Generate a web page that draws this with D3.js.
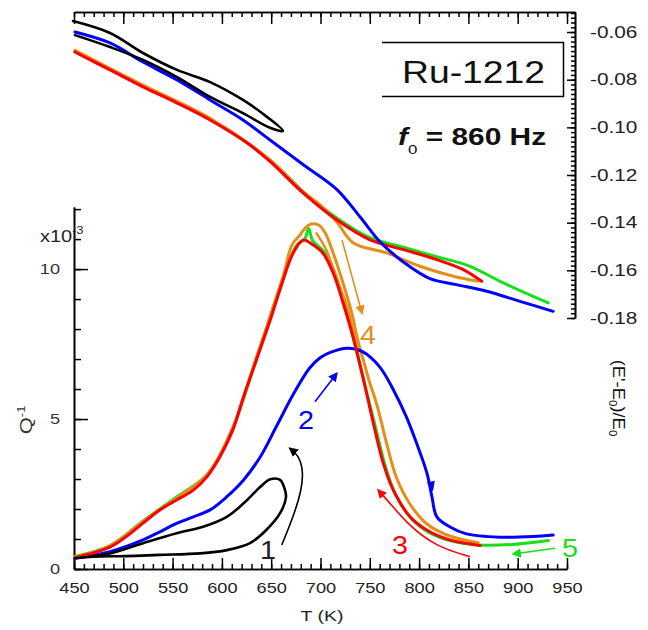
<!DOCTYPE html>
<html><head><meta charset="utf-8">
<script src="https://cdn.jsdelivr.net/npm/d3@7"></script>
<style>
body{margin:0;background:#fff}
text{font-family:"Liberation Sans",Arial,sans-serif}
</style>
</head><body>
<svg id="c" width="648" height="630"></svg>
<script>
// ---------------- DATA ----------------
// Lower panel: internal friction Q^-1 (x10^-3) vs T (K)
const qBlack  = [[451,0.36],[486.5,0.52],[520,0.86],[554,1.19],[581,1.41],[605,1.74],[622,2.19],[639,2.74],[649,2.99],[659,2.97],[664,2.63],[665,2.4],[659,1.86],[645,1.3],[628.5,0.86],[605,0.63],[578,0.52],[537,0.47],[503,0.43],[470,0.41],[451,0.36]];
const qBlue   = [[451,0.36],[486.5,0.58],[520,0.97],[537,1.24],[554,1.52],[571,1.74],[588,1.97],[605,2.41],[622,2.97],[639,3.74],[656,4.8],[672,5.8],[689,6.7],[700,7.05],[710,7.22],[727,7.36],[743,7.24],[760,6.74],[774,5.97],[787,5.08],[797.5,4.19],[808,3.19],[813,2.41],[818,1.74],[831,1.41],[848,1.17],[882,1.06],[916,1.08],[936,1.13]];
const qRed    = [[451,0.37],[486.5,0.73],[503,1.08],[520,1.53],[537,1.97],[554,2.3],[571,2.63],[585,3.08],[598,3.74],[611,4.63],[622,5.75],[635,6.97],[649,8.3],[662,9.63],[672,10.52],[682.5,10.97],[692.7,10.8],[702.8,10.52],[713,9.86],[723,8.86],[733,7.74],[743.4,6.35],[753.6,4.86],[763.7,3.52],[773.8,2.63],[790.8,1.74],[807.7,1.3],[831,0.97],[858,0.8],[862,0.78]];
const qGreen  = [[451,0.42],[486.5,0.78],[520,1.6],[554,2.4],[585,3.15],[611,4.7],[635,7.0],[662,9.7],[676,10.8],[684,11.0],[688,11.35],[692,10.95],[703,10.6],[713,10.0],[723,9.0],[737,7.2],[746,6.0],[756,4.7],[766,3.4],[776,2.5],[793,1.65],[810,1.22],[833,0.93],[860,0.8],[895,0.82],[931,0.95]];
const qOrange = [[451,0.4],[486.5,0.76],[520,1.58],[554,2.36],[585,3.14],[611,4.72],[635,7.05],[662,9.75],[671,10.8],[679,11.13],[688,11.47],[698,11.47],[705,11.19],[713,10.52],[723,9.52],[732,8.5],[738,7.6],[744,6.9],[750,6.2],[757,5.5],[767,4.2],[777,3.05],[791,2.15],[808,1.5],[831,1.1],[860,0.88]];
const qOrangeB = [[696,11.19],[706,10.63],[716,9.74],[727,8.74],[733,7.97],[738,7.1]];

// Upper panel: (E'-E0)/E0 vs T (K)
const eBlack  = [[449,-0.0554],[486.5,-0.0604],[520,-0.0688],[554.5,-0.0759],[588,-0.0810],[621.4,-0.0885],[645.7,-0.0956],[662,-0.1015],[648.8,-0.1002],[621.4,-0.0940],[588,-0.0872],[554.5,-0.0789],[520,-0.0717],[486.5,-0.0663],[451,-0.0613]];
const eBlue   = [[451,-0.0600],[486.5,-0.0646],[520,-0.0726],[554.5,-0.0801],[588,-0.0885],[621.4,-0.0969],[648.8,-0.1053],[682.6,-0.1157],[716.4,-0.1260],[740,-0.1375],[760.3,-0.1480],[784,-0.1565],[811,-0.1635],[838,-0.1660],[868.6,-0.1688],[902.3,-0.1730],[936,-0.1772]];
const eRed    = [[451,-0.0684],[486.5,-0.0759],[520,-0.0830],[554.5,-0.0898],[588,-0.0969],[625.5,-0.1065],[648.8,-0.1143],[682.6,-0.1276],[716.4,-0.1388],[750.2,-0.1472],[784,-0.1513],[817.9,-0.1555],[844.8,-0.1597],[863.5,-0.1646]];
const eGreen  = [[451,-0.0680],[520,-0.0826],[588,-0.0965],[648.8,-0.1138],[682.6,-0.1270],[716.4,-0.1380],[750.2,-0.1463],[784,-0.1503],[817.9,-0.1543],[851.6,-0.1583],[885.4,-0.1653],[931,-0.1737]];
const eOrange = [[451,-0.0677],[520,-0.0823],[588,-0.0962],[648.8,-0.1137],[682.6,-0.1272],[699.5,-0.1325],[716.4,-0.1396],[733,-0.1484],[767,-0.1527],[801,-0.1583],[834.7,-0.1625],[860,-0.1646]];

// Annotation arrows (data units, lower panel)
const arrow1 = [[660.7,0.8],[672.4,1.74],[680.9,2.63],[682.6,3.3],[677.5,3.8],[669,4.02]];
const arrow2 = [[694.4,5.58],[716.4,6.52]];
const arrow3 = [[851.6,0.41],[817.9,0.74],[790.8,1.41],[770.5,2.19],[758.6,2.63]];
const arrow4 = [[721.8,10.97],[742.1,8.53]];
const arrow5 = [[937.8,0.69],[895.5,0.5]];
const arrowLabels = [["1",646.8,0.63],["2",685.3,4.97],["3",780.6,0.8],["4",748.2,7.8],["5",953,0.7]];

// Tick values
const xMajor = [450,500,550,600,650,700,750,800,850,900,950];
const qMajor = [0,5,10];
const eMajor = [-0.18,-0.16,-0.14,-0.12,-0.10,-0.08,-0.06];

// ---------------- DRAWING ----------------
const svg = d3.select("#c");
const SX = 1.3; // horizontal text stretch seen in the reference
const x  = d3.scaleLinear().domain([450,950]).range([74,567]);
const xTop = d3.scaleLinear().domain([450, x.invert(575)]).range([74,575]);
const yQ = d3.scaleLinear().domain([0,12.07]).range([569,207]);
const yE = d3.scaleLinear().domain([-0.18,-0.0516]).range([318,12]);

const C = {black:"#000", blue:"#0000ff", red:"#ff0000", green:"#18e018", orange:"#e58e1a"};

function styleAxis(g, w){
  g.selectAll("path.domain").attr("stroke","#000").attr("stroke-width",w||1.6);
  g.selectAll(".tick line").attr("stroke","#000").attr("stroke-width",1.5);
}

// Bottom axis
const gB = svg.append("g").attr("transform","translate(0,569)");
gB.call(d3.axisBottom(x).tickValues(d3.range(450,951,10)).tickSizeInner(-5).tickSizeOuter(0).tickFormat(""));
gB.append("g").call(d3.axisBottom(x).tickValues(xMajor).tickSizeInner(-11).tickSizeOuter(0).tickPadding(14).tickFormat(d3.format("d")));
styleAxis(gB);
gB.selectAll("text").attr("font-size",14).attr("fill","#222").attr("font-family","Liberation Sans, Arial, sans-serif").attr("transform",`scale(${SX},1)`);

// Left axis
const gL = svg.append("g").attr("transform","translate(74,0)");
gL.call(d3.axisLeft(yQ).tickValues(d3.range(0,13,1)).tickSizeInner(-7).tickSizeOuter(0).tickFormat(""));
gL.append("g").call(d3.axisLeft(yQ).tickValues(qMajor).tickSizeInner(-14).tickSizeOuter(0).tickPadding(0).tickFormat(d3.format("d")));
styleAxis(gL);
gL.selectAll("text").attr("font-size",14).attr("fill","#333").attr("font-family","Liberation Sans, Arial, sans-serif")
  .attr("x",-14/SX).attr("transform",`scale(${SX},1)`);

// Top axis
const gT = svg.append("g").attr("transform","translate(0,12)");
gT.call(d3.axisTop(xTop).tickValues(d3.range(450,951,10)).tickSizeInner(-5).tickSizeOuter(0).tickFormat(""));
gT.append("g").call(d3.axisTop(xTop).tickValues(xMajor).tickSizeInner(-12).tickSizeOuter(0).tickFormat(""));
styleAxis(gT);

// Right axis
const gR = svg.append("g").attr("transform","translate(575,0)");
const eMinor = d3.range(0,65).map(i => +(-0.18 + 0.002*i).toFixed(3)).filter(v => v <= -0.052);
gR.call(d3.axisRight(yE).tickValues(eMinor).tickSizeInner(-4).tickSizeOuter(0).tickFormat(""));
gR.append("g").call(d3.axisRight(yE).tickValues(eMajor).tickSizeInner(-8).tickSizeOuter(0).tickPadding(0).tickFormat(d => d.toFixed(2)));
styleAxis(gR);
gR.selectAll("text").attr("font-size",16).attr("fill","#222").attr("font-family","Liberation Sans, Arial, sans-serif")
  .attr("x",15/SX).attr("transform",`scale(${SX},1)`);

// Curves
const lineQ = d3.line().x(d=>x(d[0])).y(d=>yQ(d[1])).curve(d3.curveCatmullRom.alpha(0.5));
const lineE = d3.line().x(d=>x(d[0])).y(d=>yE(d[1])).curve(d3.curveCatmullRom.alpha(0.5));
const curves = svg.append("g").attr("fill","none").attr("stroke-width",3).attr("stroke-linejoin","round").attr("stroke-linecap","round");
function draw(gen, data, color, w){ curves.append("path").attr("d", gen(data)).attr("stroke", color).attr("stroke-width", w||3); }

draw(lineE, eGreen, C.green);
draw(lineE, eOrange, C.orange);
draw(lineE, eRed, C.red);
draw(lineE, eBlue, C.blue);
draw(lineE, eBlack, C.black, 2.6);

draw(lineQ, qGreen, C.green);
draw(lineQ, qOrange, C.orange);
draw(lineQ, qOrangeB, C.orange, 2.5);
draw(lineQ, qBlue, C.blue);
draw(lineQ, qRed, C.red);
draw(lineQ, qBlack, C.black, 2.6);

// Arrow markers
const defs = svg.append("defs");
Object.entries(C).forEach(([k,c])=>{
  defs.append("marker").attr("id","ah-"+k).attr("viewBox","0 0 10 10").attr("refX",8).attr("refY",5)
    .attr("markerWidth",6).attr("markerHeight",6).attr("orient","auto-start-reverse")
    .append("path").attr("d","M0,0L10,5L0,10z").attr("fill",c);
});
const lineA = d3.line().x(d=>x(d[0])).y(d=>yQ(d[1])).curve(d3.curveBasis);
function arrow(data, key){
  svg.append("path").attr("d", lineA(data)).attr("fill","none").attr("stroke", C[key]).attr("stroke-width",1.6)
     .attr("marker-end", `url(#ah-${key})`);
}
arrow(arrow1,"black"); arrow(arrow2,"blue"); arrow(arrow3,"red"); arrow(arrow4,"orange"); arrow(arrow5,"green");

// Arrowhead on blue curve (cooling direction)
const bh = [813, 2.75];
svg.append("path").attr("d","M-4,-5L4,-5L0,5z").attr("fill",C.blue)
  .attr("transform",`translate(${x(bh[0])},${yQ(bh[1])}) rotate(-12)`);

const labColor = {"1":"#222","2":C.blue,"3":C.red,"4":C.orange,"5":C.green};
arrowLabels.forEach(([t,tx,q])=>{
  svg.append("text").attr("transform",`translate(${x(tx)},${yQ(q)+9}) scale(1.15,1)`)
    .attr("text-anchor","middle").attr("font-size",25).attr("fill",labColor[t]).text(t);
});

// Title box
svg.append("path").attr("d","M382,42.5H563.5V96.5H382").attr("fill","none").attr("stroke","#000").attr("stroke-width",1.5);
svg.append("text").attr("x",402).attr("y",83).attr("font-size",32).attr("textLength",143).attr("lengthAdjust","spacingAndGlyphs").attr("fill","#111").text("Ru-1212");

// f0 label
const f = svg.append("text").attr("transform",`translate(398,145) scale(${SX},1)`).attr("font-size",23).attr("font-weight","bold").attr("fill","#111");
f.append("tspan").attr("font-style","italic").text("f");
f.append("tspan").attr("font-size",13).attr("font-weight","normal").attr("dy",9).text("0");
f.append("tspan").attr("dy",-9).text(" = 860 Hz");

// Axis titles
const tx = svg.append("text").attr("transform",`translate(322,621) scale(${SX},1)`).attr("text-anchor","middle").attr("font-size",15).attr("fill","#222");
tx.text("T (K)");

const ql = svg.append("text").attr("transform",`translate(32,420) rotate(-90) scale(${SX},1)`).attr("text-anchor","middle").attr("font-size",17).attr("fill","#333");
ql.append("tspan").text("Q");
ql.append("tspan").attr("font-size",10).attr("dy",-7).text("-1");

const xl = svg.append("text").attr("transform",`translate(40,242) scale(1.25,1)`).attr("font-size",16).attr("fill","#222");
xl.append("tspan").text("x10");
xl.append("tspan").attr("font-size",10).attr("dy",-8).text("-3");

const rl = svg.append("text").attr("transform",`translate(613,398) rotate(90) scale(1.15,1)`).attr("text-anchor","middle").attr("font-size",16).attr("fill","#111");
rl.append("tspan").text("(E'-E");
rl.append("tspan").attr("font-size",10).attr("dy",4).text("0");
rl.append("tspan").attr("dy",-4).text(")/E");
rl.append("tspan").attr("font-size",10).attr("dy",4).text("0");
</script>
</body></html>
